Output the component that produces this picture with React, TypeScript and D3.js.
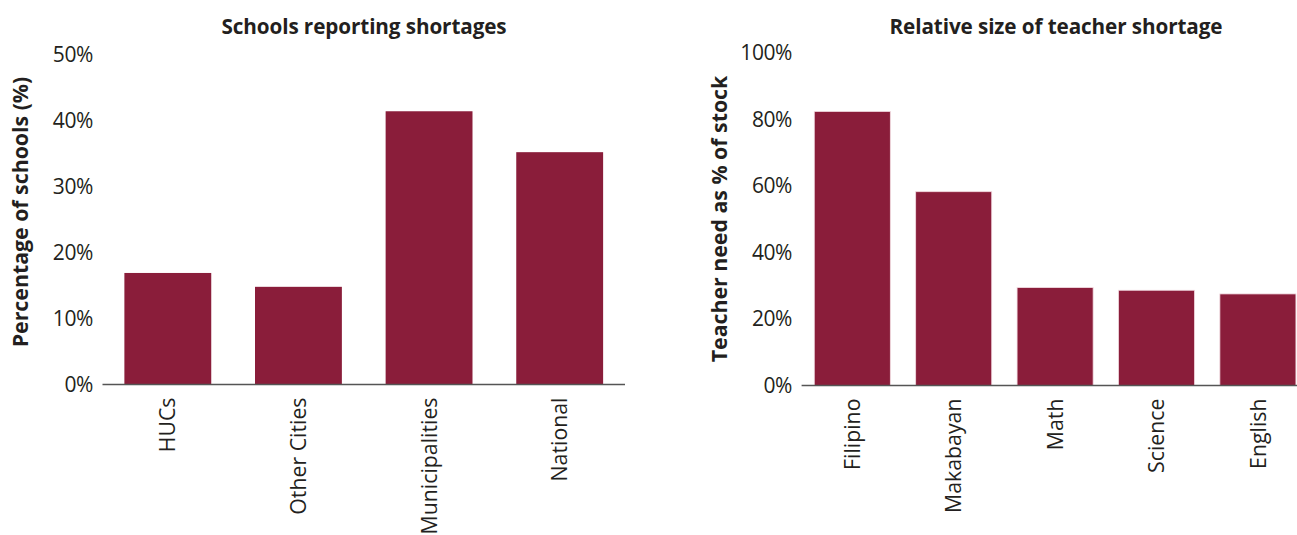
import React from "react";
import * as d3 from "d3";

const leftCategories = ["HUCs", "Other Cities", "Municipalities", "National"];
const leftValues = [16.9, 14.8, 41.4, 35.2];
const leftTicks = [0, 10, 20, 30, 40, 50];

const rightCategories = ["Filipino", "Makabayan", "Math", "Science", "English"];
const rightValues = [82.3, 58.2, 29.4, 28.6, 27.5];
const rightTicks = [0, 20, 40, 60, 80, 100];

const BAR = "#8a1d3a";
const TEXT = "#231f20";
const FONT = "'Open Sans', Lato, sans-serif";

type PanelProps = {
  title: string;
  titleX: number;
  yTitle: string;
  yTitleX: number;
  yTitleY: number;
  cats: string[];
  vals: number[];
  ticks: number[];
  xRange: [number, number];
  axisEnd: number;
  pad: number;
  yDomainMax: number;
  yRange: [number, number];
  barStroke?: string;
};

function Panel(p: PanelProps) {
  const x = d3
    .scaleBand<string>()
    .domain(p.cats)
    .range(p.xRange)
    .paddingInner(p.pad)
    .paddingOuter(p.pad / 2);
  const y = d3.scaleLinear().domain([0, p.yDomainMax]).range(p.yRange);
  const x0 = p.xRange[0];
  return (
    <g>
      <text
        x={p.titleX}
        y={34}
        textAnchor="middle"
        fontFamily={FONT}
        fontWeight={700}
        fontSize={20.7}
        letterSpacing={-0.1}
        fill={TEXT}
      >
        {p.title}
      </text>
      <text
        transform={`translate(${p.yTitleX},${p.yTitleY}) rotate(-90)`}
        textAnchor="middle"
        fontFamily={FONT}
        fontWeight={700}
        fontSize={21.3}
        fill={TEXT}
      >
        {p.yTitle}
      </text>
      {p.ticks.map((t) => (
        <text
          key={t}
          x={x0 - 9.5}
          y={y(t)}
          dy="0.36em"
          textAnchor="end"
          fontFamily={FONT}
          fontSize={21}
          letterSpacing={-0.4}
          fill={TEXT}
        >
          {t + "%"}
        </text>
      ))}
      {p.cats.map((c, i) => (
        <rect
          key={c}
          x={x(c)}
          y={y(p.vals[i])}
          width={x.bandwidth()}
          height={y(0) - y(p.vals[i])}
          fill={BAR}
          stroke={p.barStroke || "none"}
          strokeWidth={p.barStroke ? 0.8 : 0}
        />
      ))}
      <line
        x1={x0}
        x2={p.axisEnd}
        y1={y(0)}
        y2={y(0)}
        stroke="#555"
        strokeWidth={1.6}
      />
      {p.cats.map((c) => {
        const cx = (x(c) as number) + x.bandwidth() / 2;
        return (
          <text
            key={c}
            transform={`translate(${cx},${y(0) + 13}) rotate(-90)`}
            textAnchor="end"
            dy="0.36em"
            fontFamily={FONT}
            fontSize={21.3}
            fill={TEXT}
          >
            {c}
          </text>
        );
      })}
    </g>
  );
}

export default function App() {
  return (
    <svg
      width={1297}
      height={535}
      style={{ position: "absolute", left: 0, top: 0, background: "#fff" }}
    >
      <rect width={1297} height={535} fill="#fff" />
      <Panel
        title="Schools reporting shortages"
        titleX={364}
        yTitle="Percentage of schools (%)"
        yTitleX={28}
        yTitleY={212}
        cats={leftCategories}
        vals={leftValues}
        ticks={leftTicks}
        xRange={[102.5, 625]}
        axisEnd={625}
        pad={0.335}
        yDomainMax={50}
        yRange={[384.5, 54.5]}
      />
      <Panel
        title="Relative size of teacher shortage"
        titleX={1056}
        yTitle="Teacher need as % of stock"
        yTitleX={727}
        yTitleY={219}
        cats={rightCategories}
        vals={rightValues}
        ticks={rightTicks}
        xRange={[801.6, 1308.6]}
        axisEnd={1297}
        pad={0.25}
        yDomainMax={100}
        yRange={[385.5, 52.5]}
        barStroke="#f2dbe1"
      />
    </svg>
  );
}
